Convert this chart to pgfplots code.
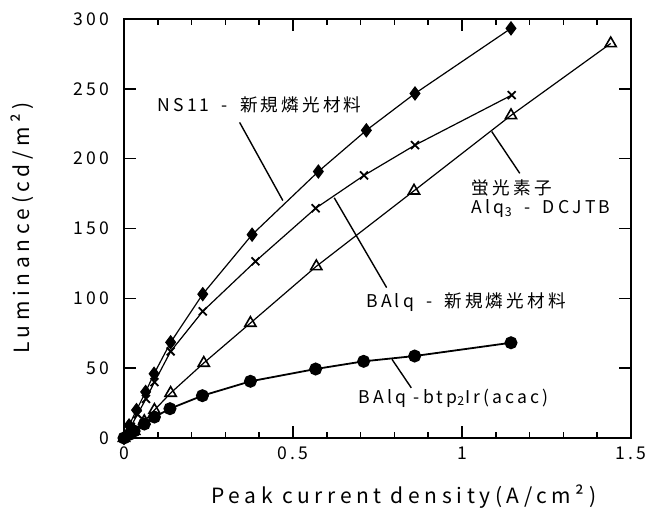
\documentclass[border=0pt]{standalone}
\usepackage{fontspec}
\setmainfont{Noto Sans CJK JP}[LetterSpace=18]
\newfontfamily\lblfont{Noto Sans CJK JP}[LetterSpace=22]
\usepackage{pgfplots}
\pgfplotsset{compat=1.18}
\newcommand{\dsh}{\hspace{2.5pt} - \hspace{2.5pt}}
\begin{document}
\begin{tikzpicture}
\begin{axis}[
  scale only axis, width=253.5pt, height=209.5pt,
  anchor=south west, at={(0,0)},
  xmin=0, xmax=1.5, ymin=0, ymax=300,
  xtick={0,0.5,1,1.5},
  xticklabels={0,\raisebox{-2pt}{0.5},1,\raisebox{-2pt}{1.5}},
  minor xtick={0.1,0.2,0.3,0.4,0.6,0.7,0.8,0.9,1.1,1.2,1.3,1.4},
  ytick={0,50,100,150,200,250,300},
  tick align=inside, tickpos=both,
  major tick length=6pt, minor tick length=3pt,
  every tick/.style={black, line width=0.8pt},
  axis line style={line width=1pt},
  /pgf/number format/assume math mode=true,
  ticklabel style={font=\fontsize{8.8}{9}\selectfont},
  yticklabel style={xshift=-4pt},
  xticklabel style={yshift=-1pt},
  clip=false,
]
% NS11 - new phosphor
\addplot[black, line width=0.6pt, mark=diamond*, mark size=3.2pt, mark options={solid, fill=black}] coordinates {
 (0,0) (0.015,9) (0.037,20) (0.064,33) (0.089,46) (0.138,68.5) (0.233,103) (0.379,145.6) (0.575,190.8) (0.717,220.3) (0.861,246.7) (1.145,293.3)};
% BAlq - new phosphor
\addplot[black, line width=0.6pt, mark=x, mark size=2.8pt, mark options={solid, line width=0.9pt}] coordinates {
 (0,0) (0.02,8) (0.04,17) (0.065,28) (0.09,40) (0.138,62) (0.233,90.7) (0.389,126.5) (0.567,164.5) (0.71,188) (0.861,209.7) (1.147,245.5)};
% Alq3 - DCJTB
\addplot[black, line width=0.6pt, mark=triangle, mark size=3.2pt, mark options={solid, fill=white, line width=0.8pt}] coordinates {
 (0,0) (0.03,5) (0.06,12) (0.09,20) (0.138,32.2) (0.236,53.7) (0.374,82.3) (0.569,122.9) (0.858,177) (1.145,231) (1.44,282.5)};
% BAlq - btp2Ir(acac)
\addplot[black, line width=0.9pt, mark=*, mark size=2.8pt, mark options={solid, fill=black}] coordinates {
 (0,0) (0.015,2.5) (0.03,5) (0.06,10) (0.09,15) (0.136,21) (0.232,30.3) (0.374,40.6) (0.567,49.4) (0.709,54.9) (0.86,58.7) (1.145,68.2)};
% leader lines
\addplot[black, line width=0.7pt, no marks] coordinates {(0.342,226) (0.47,170)};
\addplot[black, line width=0.7pt, no marks] coordinates {(1.171,189.5) (1.088,219.4)};
\addplot[black, line width=0.7pt, no marks] coordinates {(0.777,107.7) (0.622,172)};
\addplot[black, line width=0.7pt, no marks] coordinates {(0.85,35.9) (0.793,56.3)};
% annotations
\node[anchor=west, inner sep=0pt, font=\fontsize{8.8}{9}\selectfont] at (axis cs:0.098,238.4) {NS11\dsh 新規燐光材料};
\node[anchor=west, inner sep=0pt, font=\fontsize{8.8}{9}\selectfont] at (axis cs:1.028,178.7) {蛍光素子};
\node[anchor=west, inner sep=0pt, font=\fontsize{8.8}{9}\selectfont] at (axis cs:1.028,164.4) {Alq\textsubscript{3}\dsh DCJTB};
\node[anchor=west, inner sep=0pt, font=\fontsize{8.8}{9}\selectfont] at (axis cs:0.716,97.6) {BAlq\dsh 新規燐光材料};
\node[anchor=west, inner sep=0pt, font=\fontsize{8.8}{9}\selectfont] at (axis cs:0.694,28.7) {BAlq -btp\textsubscript{2}Ir(acac)};
% axis labels
\node[inner sep=0pt, font=\lblfont\fontsize{10.5}{11}\selectfont] at (axis cs:0.828,-42.2) {Peak current density(A/cm²)};
\node[inner sep=0pt, rotate=90, font=\lblfont\fontsize{10.5}{11}\selectfont] at (axis cs:-0.302,150.3) {Luminance(cd/m²)};
\end{axis}
\pgfresetboundingbox
\path (-62pt,-39pt) rectangle (263pt,219pt);
\end{tikzpicture}
\end{document}
